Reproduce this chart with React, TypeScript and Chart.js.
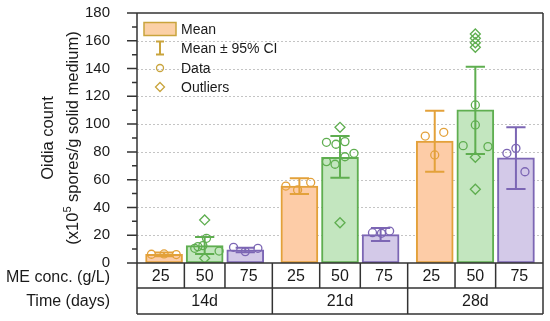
import { useEffect, useRef } from 'react';
import { Chart, registerables } from 'chart.js';

Chart.register(...registerables);

const FONT = "'Liberation Sans', Arial, Helvetica, sans-serif";

// ---- data ----
const times = ['14d', '21d', '28d'];
const concs = ['25', '50', '75'];

const mean25 = [6.3, 55.4, 87.8];
const mean50 = [12.5, 76.1, 110.2];
const mean75 = [9.4, 20.4, 75.8];

const ciLow25 = [4.8, 49.7, 65.7];
const ciHigh25 = [7.6, 61.0, 109.7];
const ciLow50 = [6.4, 61.4, 78.5];
const ciHigh50 = [18.8, 91.4, 141.3];
const ciLow75 = [7.8, 15.8, 53.3];
const ciHigh75 = [11.0, 25.2, 97.7];

// individual observations per time point, with horizontal jitter (x-axis units)
const data25 = [[6.3, 6.5, 6.1], [55.4, 58.0, 52.6], [91.4, 94.1, 77.8]];
const jitter25 = [[-0.28, 0, 0.27], [-0.3, 0.25, -0.04], [-0.21, 0.2, 0]];
const data50 = [
  [17.8, 12.5, 11.8, 10.6, 8.6],
  [86.9, 85.5, 87.4, 73.0, 71.1, 76.5, 79.0],
  [113.8, 99.4, 84.5, 83.8],
];
const jitter50 = [
  [0.04, -0.04, -0.15, -0.22, 0.32],
  [-0.3, -0.09, 0.11, -0.3, -0.11, 0.11, 0.31],
  [0, 0, -0.27, 0.28],
];
const data75 = [[11.3, 10.6, 8.2], [21.8, 21.4, 23.0], [79.0, 82.6, 65.7]];
const jitter75 = [[-0.26, 0.28, 0], [-0.18, 0.02, 0.2], [-0.2, 0, 0.2]];
const outliers50 = [[31, 3.4], [97.7, 29], [164.9, 161.8, 158.6, 155.3, 76.1, 53.1]];

const yTickValues = [0, 20, 40, 60, 80, 100, 120, 140, 160, 180];
const legendLabels = ['Mean', 'Mean \u00b1 95% CI', 'Data', 'Outliers'];
const rowLabels = ['ME conc. (g/L)', 'Time (days)'];
const yTitle1 = 'Oidia count';
const yTitle2a = '(x10';
const yTitle2sup = '5';
const yTitle2b = ' spores/g solid medium)';

// ---- styles ----
const fills = ['#fdcca7', '#c3e6bf', '#d3c9e8'];
const strokes = ['#e3a13a', '#5fae50', '#7c66b4'];
const legendStroke = '#c9a43c';
const legendFill = '#fbd0a6';
const axisColor = '#333333';
const textColor = '#1a1a1a';

const GROUP = 3; // x units per time group
const CONC_OFFSET = 0.9; // x units between bars

const groupCenter = (i: number) => GROUP * i + GROUP / 2;
const barX = (k: number, i: number) => groupCenter(i) + (k - 1) * CONC_OFFSET;

const means = [mean25, mean50, mean75];
const ciLows = [ciLow25, ciLow50, ciLow75];
const ciHighs = [ciHigh25, ciHigh50, ciHigh75];
const dataSets = [data25, data50, data75];
const jitters = [jitter25, jitter50, jitter75];

const decor = {
  id: 'decor',
  beforeDatasetsDraw(chart: any) {
    const { ctx, chartArea: a, scales } = chart;
    const y = scales.y;
    ctx.save();
    ctx.strokeStyle = '#c4c4c4';
    ctx.lineWidth = 1;
    ctx.setLineDash([2, 2]);
    yTickValues.forEach((v) => {
      if (v === 0 || v === 180) return;
      const py = Math.round(y.getPixelForValue(v)) + 0.5;
      ctx.beginPath();
      ctx.moveTo(a.left, py);
      ctx.lineTo(a.right, py);
      ctx.stroke();
    });
    ctx.restore();
  },
  afterDatasetDraw(chart: any, args: any) {
    const meta = chart.getDatasetMeta(args.index);
    if (meta.type !== 'bar') return;
    const k = chart.data.datasets[args.index].concIndex;
    const { ctx, scales } = chart;
    const y = scales.y;
    ctx.save();
    ctx.strokeStyle = strokes[k];
    ctx.lineWidth = 2;
    meta.data.forEach((bar: any, i: number) => {
      const cx = bar.x;
      const half = bar.width * 0.26;
      const yl = y.getPixelForValue(ciLows[k][i]);
      const yh = y.getPixelForValue(ciHighs[k][i]);
      ctx.beginPath();
      ctx.moveTo(cx, yl);
      ctx.lineTo(cx, yh);
      ctx.moveTo(cx - half, yl);
      ctx.lineTo(cx + half, yl);
      ctx.moveTo(cx - half, yh);
      ctx.lineTo(cx + half, yh);
      ctx.stroke();
    });
    ctx.restore();
  },
  afterDraw(chart: any) {
    const { ctx, chartArea: a, scales } = chart;
    const x = scales.x;
    const y = scales.y;
    const row1 = a.bottom + 25;
    const row2 = a.bottom + 51;
    ctx.save();

    // axes + frame + table
    ctx.strokeStyle = axisColor;
    ctx.lineWidth = 1.5;
    ctx.beginPath();
    ctx.moveTo(a.left, a.top);
    ctx.lineTo(a.right, a.top);
    ctx.moveTo(a.left, a.top);
    ctx.lineTo(a.left, row2);
    ctx.moveTo(a.right, a.top);
    ctx.lineTo(a.right, row2);
    ctx.moveTo(a.left, a.bottom);
    ctx.lineTo(a.right, a.bottom);
    ctx.moveTo(a.left, row1);
    ctx.lineTo(a.right, row1);
    ctx.moveTo(a.left, row2);
    ctx.lineTo(a.right, row2);
    times.forEach((_, i) => {
      const gx = x.getPixelForValue(GROUP * i);
      if (i > 0) {
        ctx.moveTo(gx, a.bottom);
        ctx.lineTo(gx, row2);
      }
      [-CONC_OFFSET / 2, CONC_OFFSET / 2].forEach((d) => {
        const dx = x.getPixelForValue(groupCenter(i) + d);
        ctx.moveTo(dx, a.bottom);
        ctx.lineTo(dx, row1);
      });
    });
    // y ticks (major + minor)
    for (let v = 0; v <= 180; v += 10) {
      const py = y.getPixelForValue(v);
      const len = v % 20 === 0 ? 10 : 5;
      ctx.moveTo(a.left - len, py);
      ctx.lineTo(a.left, py);
    }
    ctx.stroke();

    // table text
    ctx.fillStyle = textColor;
    ctx.font = `16px ${FONT}`;
    ctx.textBaseline = 'middle';
    ctx.textAlign = 'center';
    times.forEach((t, i) => {
      const b = [GROUP * i, groupCenter(i) - CONC_OFFSET / 2, groupCenter(i) + CONC_OFFSET / 2, GROUP * (i + 1)];
      concs.forEach((c, k) => {
        const cx = (x.getPixelForValue(b[k]) + x.getPixelForValue(b[k + 1])) / 2;
        ctx.fillText(c, cx, (a.bottom + row1) / 2 + 1);
      });
      const gx = x.getPixelForValue(groupCenter(i));
      ctx.fillText(t, gx, (row1 + row2) / 2 + 1);
    });
    ctx.textAlign = 'right';
    ctx.fillText(rowLabels[0], 110, (a.bottom + row1) / 2 + 2);
    ctx.fillText(rowLabels[1], 110, (row1 + row2) / 2 + 1);

    // y title
    const cy = (a.top + a.bottom) / 2;
    ctx.save();
    ctx.translate(48, cy);
    ctx.rotate(-Math.PI / 2);
    ctx.textAlign = 'center';
    ctx.font = `16.5px ${FONT}`;
    ctx.fillText(yTitle1, 0, 0);
    ctx.restore();
    ctx.save();
    ctx.translate(73, cy);
    ctx.rotate(-Math.PI / 2);
    ctx.textAlign = 'left';
    const big = `16.5px ${FONT}`;
    const small = `11px ${FONT}`;
    ctx.font = big;
    const w1 = ctx.measureText(yTitle2a).width;
    const w3 = ctx.measureText(yTitle2b).width;
    ctx.font = small;
    const w2 = ctx.measureText(yTitle2sup).width;
    const start = -(w1 + w2 + w3) / 2;
    ctx.font = big;
    ctx.fillText(yTitle2a, start, 0);
    ctx.fillText(yTitle2b, start + w1 + w2, 0);
    ctx.font = small;
    ctx.fillText(yTitle2sup, start + w1, -5);
    ctx.restore();

    // legend
    const lx = a.left + 23;
    const tx = a.left + 44;
    const ly = [a.top + 16, a.top + 35, a.top + 55, a.top + 74];
    ctx.lineWidth = 1.5;
    ctx.strokeStyle = legendStroke;
    ctx.fillStyle = legendFill;
    ctx.fillRect(lx - 16, ly[0] - 6.5, 32, 13);
    ctx.strokeRect(lx - 16, ly[0] - 6.5, 32, 13);
    ctx.lineWidth = 2;
    ctx.beginPath();
    ctx.moveTo(lx, ly[1] - 6.5);
    ctx.lineTo(lx, ly[1] + 6.5);
    ctx.moveTo(lx - 4, ly[1] - 6.5);
    ctx.lineTo(lx + 4, ly[1] - 6.5);
    ctx.moveTo(lx - 4, ly[1] + 6.5);
    ctx.lineTo(lx + 4, ly[1] + 6.5);
    ctx.stroke();
    ctx.lineWidth = 1.3;
    ctx.beginPath();
    ctx.arc(lx, ly[2], 3.5, 0, Math.PI * 2);
    ctx.stroke();
    ctx.beginPath();
    ctx.moveTo(lx, ly[3] - 4.5);
    ctx.lineTo(lx + 4.5, ly[3]);
    ctx.lineTo(lx, ly[3] + 4.5);
    ctx.lineTo(lx - 4.5, ly[3]);
    ctx.closePath();
    ctx.stroke();
    ctx.fillStyle = textColor;
    ctx.font = `14px ${FONT}`;
    ctx.textAlign = 'left';
    ctx.textBaseline = 'middle';
    legendLabels.forEach((l, i) => ctx.fillText(l, tx, ly[i] + 1));

    ctx.restore();
  },
};

export default function App() {
  const ref = useRef<HTMLCanvasElement>(null);
  useEffect(() => {
    const datasets: any[] = [];
    concs.forEach((c, k) => {
      datasets.push({
        type: 'bar',
        label: c,
        concIndex: k,
        data: times.map((_, i) => ({ x: barX(k, i), y: means[k][i] })),
        backgroundColor: fills[k],
        borderColor: strokes[k],
        borderWidth: 2,
        borderSkipped: false,
        barThickness: 37,
        grouped: false,
        order: 3,
      });
    });
    concs.forEach((c, k) => {
      const pts: any[] = [];
      times.forEach((_, i) => {
        dataSets[k][i].forEach((v, j) => pts.push({ x: barX(k, i) + jitters[k][i][j], y: v }));
      });
      datasets.push({
        type: 'line',
        label: `${c} data`,
        data: pts,
        showLine: false,
        pointStyle: 'circle',
        pointRadius: 4,
        pointBorderWidth: 1.3,
        pointBackgroundColor: 'rgba(0,0,0,0)',
        pointBorderColor: strokes[k],
        borderColor: strokes[k],
        order: 1,
      });
    });
    const outPts: any[] = [];
    times.forEach((_, i) => outliers50[i].forEach((v) => outPts.push({ x: barX(1, i), y: v })));
    datasets.push({
      type: 'line',
      label: 'outliers',
      data: outPts,
      showLine: false,
      pointStyle: 'rectRot',
      pointRadius: 5,
      pointBorderWidth: 1.3,
      pointBackgroundColor: 'rgba(0,0,0,0)',
      pointBorderColor: strokes[1],
      borderColor: strokes[1],
      order: 1,
    });

    const chart = new Chart(ref.current as HTMLCanvasElement, {
      type: 'bar',
      data: { datasets },
      options: {
        responsive: false,
        animation: false,
        devicePixelRatio: 1,
        layout: { padding: { top: 13, right: 7, bottom: 58, left: 0 } },
        scales: {
          x: { type: 'linear', min: 0, max: GROUP * times.length, display: false, offset: false },
          y: {
            type: 'linear',
            min: 0,
            max: 180,
            ticks: { stepSize: 20, padding: 19, color: textColor, font: { family: FONT, size: 15 } },
            grid: { display: false },
            border: { display: false },
            afterFit: (s: any) => {
              s.width = 137;
              s.paddingTop = 0;
              s.paddingBottom = 0;
            },
          },
        },
        plugins: { legend: { display: false }, tooltip: { enabled: false } },
      } as any,
      plugins: [decor],
    });
    return () => chart.destroy();
  }, []);
  return (
    <div style={{ position: 'fixed', left: 0, top: 0, width: 550, height: 321, background: '#fff' }}>
      <canvas ref={ref} width={550} height={321} style={{ display: 'block', width: 550, height: 321 }} />
    </div>
  );
}
